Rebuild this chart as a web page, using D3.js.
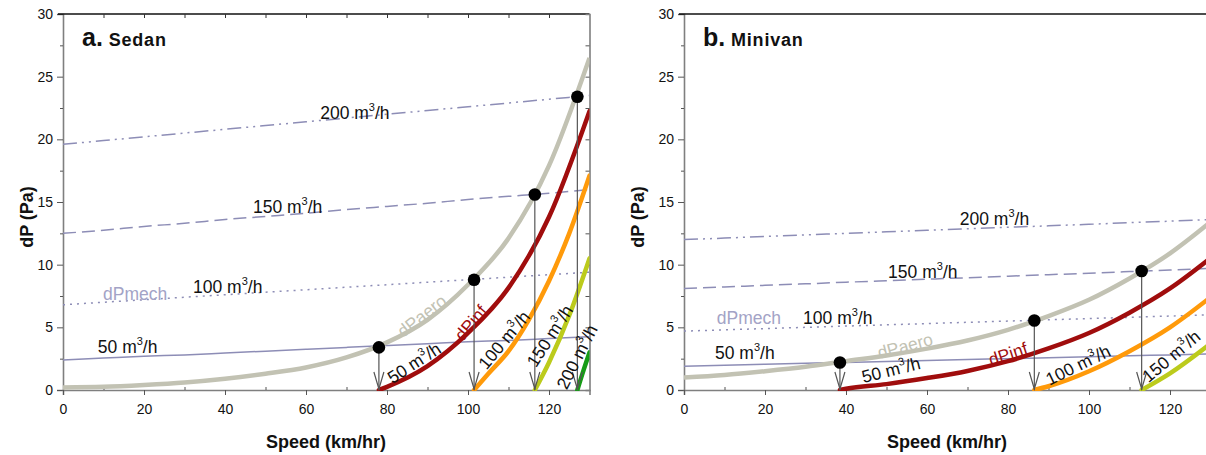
<!DOCTYPE html>
<html>
<head>
<meta charset="utf-8">
<script src="https://cdn.jsdelivr.net/npm/d3@7"></script>
<style>
  body { margin: 0; background: #fff; }
  svg { font-family: "Liberation Sans", Arial, sans-serif; }
</style>
</head>
<body>
<svg id="chart" width="1206" height="455"></svg>
<script>
// Speed grid (km/hr) shared by dPaero and dPmech curves
var speeds = [0, 10, 20, 30, 40, 50, 60, 70, 80, 90, 100, 110, 120, 130];

// a. Sedan
var sedanAero = [0.2, 0.25, 0.4, 0.6, 0.9, 1.3, 1.8, 2.6, 3.8, 5.6, 8.4, 12.1, 17.9, 26.5];
var sedanMech50 = [2.4, 2.55, 2.7, 2.8, 2.95, 3.1, 3.25, 3.4, 3.55, 3.7, 3.85, 3.95, 4.1, 4.25];
var sedanMech100 = [6.8, 7.0, 7.2, 7.4, 7.6, 7.8, 8.0, 8.2, 8.4, 8.6, 8.8, 9.0, 9.2, 9.4];
var sedanMech150 = [12.5, 12.75, 13.05, 13.3, 13.6, 13.85, 14.1, 14.4, 14.65, 14.9, 15.2, 15.45, 15.7, 16.0];
var sedanMech200 = [19.6, 19.9, 20.2, 20.5, 20.8, 21.1, 21.4, 21.7, 22.0, 22.3, 22.6, 22.9, 23.2, 23.5];
// dPinf curves: [speed, dP]
var sedanInf50 = [[78, 0], [80, 0.25], [90, 1.9], [100, 4.55], [110, 8.15], [120, 13.8], [130, 22.25]];
var sedanInf100 = [[101.5, 0], [105, 1.3], [110, 3.1], [115, 5.6], [120, 8.7], [125, 12.5], [130, 17.1]];
var sedanInf150 = [[116.5, 0], [120, 2.2], [125, 5.95], [130, 10.5]];
var sedanInf200 = [[127, 0], [128.5, 1.55], [130, 3.0]];
// balance points (dPaero = dPmech)
var sedanDots = [[78, 3.4], [101.5, 8.8], [116.5, 15.6], [127, 23.4]];

// b. Minivan
var vanAero = [1.0, 1.2, 1.5, 1.85, 2.3, 2.75, 3.3, 3.95, 4.8, 5.9, 7.2, 8.9, 10.9, 13.4];
var vanMech50 = [1.9, 1.98, 2.05, 2.13, 2.2, 2.28, 2.35, 2.43, 2.5, 2.58, 2.65, 2.73, 2.8, 2.88];
var vanMech100 = [4.7, 4.8, 4.9, 5.0, 5.1, 5.2, 5.3, 5.4, 5.5, 5.6, 5.7, 5.8, 5.9, 6.0];
var vanMech150 = [8.1, 8.22, 8.35, 8.47, 8.6, 8.72, 8.84, 8.96, 9.08, 9.2, 9.32, 9.45, 9.57, 9.7];
var vanMech200 = [12.0, 12.12, 12.25, 12.37, 12.5, 12.62, 12.74, 12.86, 12.98, 13.1, 13.22, 13.35, 13.47, 13.6];
var vanInf50 = [[38.5, 0], [40, 0.1], [50, 0.47], [60, 0.95], [70, 1.52], [80, 2.3], [90, 3.32], [100, 4.55], [110, 6.17], [120, 8.1], [130, 10.52]];
var vanInf100 = [[86.5, 0], [90, 0.3], [100, 1.5], [110, 3.1], [120, 5.0], [130, 7.4]];
var vanInf150 = [[113, 0], [120, 1.33], [130, 3.7]];
var vanDots = [[38.5, 2.2], [86.5, 5.55], [113, 9.5]];

var yTicks = [0, 5, 10, 15, 20, 25, 30];
var xTicks = [0, 20, 40, 60, 80, 100, 120];

var mechColor = "#8d8db6";
var aeroColor = "#c2c2b3";
var infColors = ["#a00d0d", "#ff9a0a", "#bccb1c", "#169c16"];
var mechDash = [null, "2,5", "13,6", "14,5,2,5,2,5"];

var svg = d3.select("#chart");

// small helper for "NNN m³/h" labels
function flowLabel(sel, n) {
  sel.append("tspan").text(n + " m");
  sel.append("tspan").attr("font-size", "11px").attr("dy", -8).text("3");
  sel.append("tspan").attr("dy", 8).text("/h");
}

function drawPanel(p) {
  var x = d3.scaleLinear().domain([0, 130]).range([p.left, p.left + 526.5]);
  var y = d3.scaleLinear().domain([0, 30]).range([390, 14]);
  var g = svg.append("g");

  var clipId = "clip" + p.id;
  svg.append("clipPath").attr("id", clipId).append("rect")
    .attr("x", p.left).attr("y", 10).attr("width", 526.5).attr("height", 381);

  // axes
  g.append("g").attr("transform", "translate(" + p.left + ",0)")
    .call(d3.axisLeft(y).tickValues(yTicks).tickSize(6).tickPadding(4));
  g.append("g").attr("transform", "translate(" + p.left + ",0)")
    .call(d3.axisLeft(y).tickValues(d3.range(2.5, 30, 5)).tickSize(3).tickFormat(""))
    .select(".domain").remove();
  g.append("g").attr("transform", "translate(0,390)")
    .call(d3.axisBottom(x).tickValues(xTicks).tickSize(5).tickPadding(9));
  g.append("g").attr("transform", "translate(0,390)")
    .call(d3.axisTop(x).tickValues(d3.range(10, 130, 20)).tickSize(3).tickFormat(""))
    .select(".domain").remove();

  g.selectAll(".domain").attr("stroke", "#7f7f7f").attr("stroke-width", 1.6);
  g.selectAll(".tick line").attr("stroke", "#555");
  g.selectAll(".tick text").attr("font-size", "14px").attr("fill", "#111")
    .attr("font-family", "Liberation Sans, Arial, sans-serif");

  // top frame line
  g.append("line").attr("x1", p.left - 5).attr("x2", Math.min(1206, x(130)))
    .attr("y1", y(30)).attr("y2", y(30)).attr("stroke", "#111").attr("stroke-width", 1.5);
  if (p.frame) {
    g.append("g").attr("transform", "translate(0," + y(30) + ")")
      .call(d3.axisBottom(x).tickValues(d3.range(10, 130, 10)).tickSize(4).tickFormat(""))
      .call(function(s) { s.select(".domain").remove(); s.selectAll("line").attr("stroke", "#333"); });
    g.append("g").attr("transform", "translate(" + x(130) + ",0)")
      .call(d3.axisLeft(y).tickValues(d3.range(2.5, 30, 2.5)).tickSize(4).tickFormat(""))
      .call(function(s) {
        s.select(".domain").attr("stroke", "#7f7f7f").attr("stroke-width", 1.6);
        s.selectAll("line").attr("stroke", "#555");
      });
  }

  var plot = g.append("g").attr("clip-path", "url(#" + clipId + ")");

  var line = d3.line().x(function(d) { return x(d[0]); }).y(function(d) { return y(d[1]); })
    .curve(d3.curveMonotoneX);

  // dPmech lines
  p.mech.forEach(function(vals, i) {
    plot.append("path")
      .datum(speeds.map(function(s, j) { return [s, vals[j]]; }))
      .attr("fill", "none").attr("stroke", mechColor).attr("stroke-width", 1.5)
      .attr("stroke-dasharray", mechDash[i]).attr("d", line);
  });

  // dPaero
  plot.append("path")
    .datum(speeds.map(function(s, j) { return [s, p.aero[j]]; }))
    .attr("fill", "none").attr("stroke", aeroColor).attr("stroke-width", 4.5).attr("d", line);

  // dPinf
  p.inf.forEach(function(c, i) {
    plot.append("path").datum(c)
      .attr("fill", "none").attr("stroke", infColors[i]).attr("stroke-width", 4.5)
      .attr("stroke-linecap", "round").attr("d", line);
  });

  // arrows from balance points down to the axis
  p.dots.forEach(function(d) {
    var px = x(d[0]);
    plot.append("line").attr("x1", px).attr("x2", px).attr("y1", y(d[1])).attr("y2", y(0))
      .attr("stroke", "#555").attr("stroke-width", 1.2);
    plot.append("path")
      .attr("d", "M" + (px - 5) + "," + (y(0) - 18) + "L" + px + "," + (y(0) - 1) + "L" + (px + 5) + "," + (y(0) - 18))
      .attr("fill", "none").attr("stroke", "#555").attr("stroke-width", 1.2);
    plot.append("circle").attr("cx", px).attr("cy", y(d[1])).attr("r", 6.3).attr("fill", "#000");
  });

  // text labels
  p.labels.forEach(function(l) {
    var t = g.append("text")
      .attr("transform", "translate(" + x(l.at[0]) + "," + y(l.at[1]) + ") rotate(" + (l.rot || 0) + ")")
      .attr("text-anchor", l.rot ? "middle" : "start")
      .attr("dy", l.rot ? "0.35em" : 0)
      .attr("font-size", "17.5px")
      .attr("fill", l.color || "#111");
    if (l.flow) flowLabel(t, l.flow); else t.text(l.text);
  });

  // panel title
  var title = g.append("text").attr("x", p.left + 19).attr("y", 46)
    .attr("font-weight", "bold").attr("fill", "#111");
  title.append("tspan").attr("font-size", "25px").text(p.letter);
  title.append("tspan").attr("font-size", "18px").attr("letter-spacing", "0.8px").text(" " + p.name);

  // axis titles
  g.append("text").attr("x", p.left + 263).attr("y", 448).attr("text-anchor", "middle")
    .attr("font-size", "18px").attr("font-weight", "bold").attr("fill", "#111")
    .text("Speed (km/hr)");
  g.append("text").attr("transform", "translate(" + p.yTitleX + ",217) rotate(-90)")
    .attr("text-anchor", "middle").attr("font-size", "18px").attr("font-weight", "bold")
    .attr("fill", "#111").text("dP (Pa)");
}

drawPanel({
  id: "a", left: 63, frame: true, letter: "a.", name: "Sedan", yTitleX: 33,
  aero: sedanAero,
  mech: [sedanMech50, sedanMech100, sedanMech150, sedanMech200],
  inf: [sedanInf50, sedanInf100, sedanInf150, sedanInf200],
  dots: sedanDots,
  labels: [
    { flow: 200, at: [63.5, 21.6] },
    { flow: 150, at: [46.9, 14.16] },
    { flow: 100, at: [32.1, 7.76] },
    { text: "dPmech", at: [9.9, 7.2], color: "#a3a3c6" },
    { flow: 50, at: [8.6, 2.96] },
    { text: "dPaero", at: [88.6, 5.92], rot: -38, color: aeroColor },
    { text: "dPinf", at: [100.7, 5.36], rot: -50, color: infColors[0] },
    { flow: 50, at: [86.7, 2.16], rot: -33 },
    { flow: 100, at: [108.9, 4.0], rot: -50 },
    { flow: 150, at: [120.2, 4.32], rot: -57 },
    { flow: 200, at: [126.9, 2.64], rot: -63 }
  ]
});

drawPanel({
  id: "b", left: 684, frame: false, letter: "b.", name: "Minivan", yTitleX: 644,
  aero: vanAero,
  mech: [vanMech50, vanMech100, vanMech150, vanMech200],
  inf: [vanInf50, vanInf100, vanInf150],
  dots: vanDots,
  labels: [
    { flow: 200, at: [68.1, 13.2] },
    { flow: 150, at: [50.4, 8.96] },
    { flow: 100, at: [29.4, 5.28] },
    { text: "dPmech", at: [8.1, 5.28], color: "#a3a3c6" },
    { flow: 50, at: [7.65, 2.48] },
    { text: "dPaero", at: [54.6, 3.52], rot: -15, color: aeroColor },
    { text: "dPinf", at: [80, 2.88], rot: -18, color: infColors[0] },
    { flow: 50, at: [51.1, 1.6], rot: -14 },
    { flow: 100, at: [97.3, 2.0], rot: -26 },
    { flow: 150, at: [120.3, 2.7], rot: -40 }
  ]
});
</script>
</body>
</html>
